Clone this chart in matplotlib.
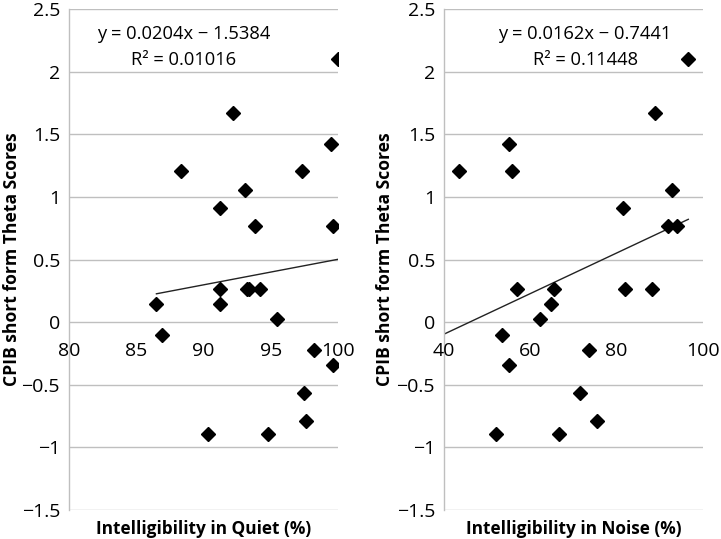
import matplotlib
matplotlib.use("Agg")
import matplotlib.pyplot as plt
import numpy as np

plt.rcParams['font.family'] = ['Open Sans', 'DejaVu Sans']

# Data: CPIB theta scores vs intelligibility
quiet_x = [100.0, 92.2, 88.3, 97.35, 99.5, 93.1, 91.2, 93.8, 99.6,
           86.5, 86.9, 91.2, 93.2, 93.4, 94.2, 91.2, 95.5, 98.2, 99.6,
           97.5, 97.6, 90.3, 94.8]
quiet_y = [2.10, 1.67, 1.21, 1.21, 1.42, 1.055, 0.913, 0.77, 0.77,
           0.141, -0.106, 0.266, 0.266, 0.266, 0.266, 0.141, 0.024, -0.221, -0.341,
           -0.565, -0.788, -0.897, -0.897]

noise_x = [96.6, 88.9, 43.4, 55.1, 55.8, 92.8, 81.5, 92.0, 93.9,
           56.8, 65.4, 82.0, 88.3, 64.9, 62.3, 53.4, 55.0, 73.6, 71.4,
           75.4, 52.0, 66.6]
noise_y = [2.10, 1.67, 1.21, 1.42, 1.21, 1.055, 0.913, 0.77, 0.77,
           0.266, 0.266, 0.266, 0.266, 0.141, 0.024, -0.106, -0.341, -0.221, -0.565,
           -0.788, -0.897, -0.897]

# Trendline coefficients (as printed)
quiet_fit = (0.0204, -1.5384)
noise_fit = (0.0162, -0.7441)
quiet_eq = ["y = 0.0204x \u2212 1.5384", "R\u00b2 = 0.01016"]
noise_eq = ["y = 0.0162x \u2212 0.7441", "R\u00b2 = 0.11448"]

y_ticks = [-1.5, -1, -0.5, 0, 0.5, 1, 1.5, 2, 2.5]
quiet_xticks = [80, 85, 90, 95, 100]
noise_xticks = [40, 60, 80, 100]

fig = plt.figure(figsize=(7.21, 5.39), dpi=100)
ax1 = fig.add_axes([0.0957, 0.0538, 0.3731, 0.9295])
ax2 = fig.add_axes([0.6158, 0.0538, 0.3592, 0.9295])

grid_c = '#bfbfbf'

def fmt(v):
    s = ('%g' % v)
    return s.replace('-', '\u2212')

def setup(ax, xs, ys, xticks, fit, trend_x, eq, eq_x, xlabel, ylab_x):
    ax.set_xlim(xticks[0], xticks[-1])
    ax.set_ylim(-1.5, 2.5)
    for yv in y_ticks:
        ax.axhline(yv, color=grid_c, lw=1.0, zorder=0)
    for s in ['top', 'right', 'bottom']:
        ax.spines[s].set_visible(False)
    ax.spines['left'].set_color(grid_c)
    ax.spines['left'].set_linewidth(1.0)
    ax.set_yticks(y_ticks)
    ax.set_yticklabels([fmt(v) for v in y_ticks], fontsize=14)
    ax.set_xticks([])
    for xv in xticks:
        ax.text(xv, -0.23, fmt(xv), ha='center', va='center', fontsize=14)
    ax.tick_params(axis='y', length=0, pad=6.5)
    tx = np.array(trend_x)
    ax.plot(tx, fit[0] * tx + fit[1], color='#222222', lw=1.0, zorder=2)
    ax.plot(xs, ys, linestyle='none', marker='D', markersize=7.3,
            color='black', zorder=3)
    ax.text(eq_x, 2.30, eq[0], ha='center', va='center', fontsize=13.2)
    ax.text(eq_x, 2.09, eq[1], ha='center', va='center', fontsize=13.2)
    ax.set_ylabel('CPIB short form Theta Scores', fontsize=12.6, fontweight='bold',
                  va='center', ha='center')
    ax.yaxis.set_label_coords(ylab_x, 0.5)
    ax.text(0.5, -0.038, xlabel, transform=ax.transAxes, ha='center', va='center',
            fontsize=12.4, fontweight='bold')

setup(ax1, quiet_x, quiet_y, quiet_xticks, quiet_fit,
      [min(quiet_x), max(quiet_x)], quiet_eq, 88.5, 'Intelligibility in Quiet (%)',
      -0.212)
setup(ax2, noise_x, noise_y, noise_xticks, noise_fit,
      [noise_xticks[0], max(noise_x)], noise_eq, 72.7, 'Intelligibility in Noise (%)',
      -0.228)

fig.savefig('out.png', dpi=100)
